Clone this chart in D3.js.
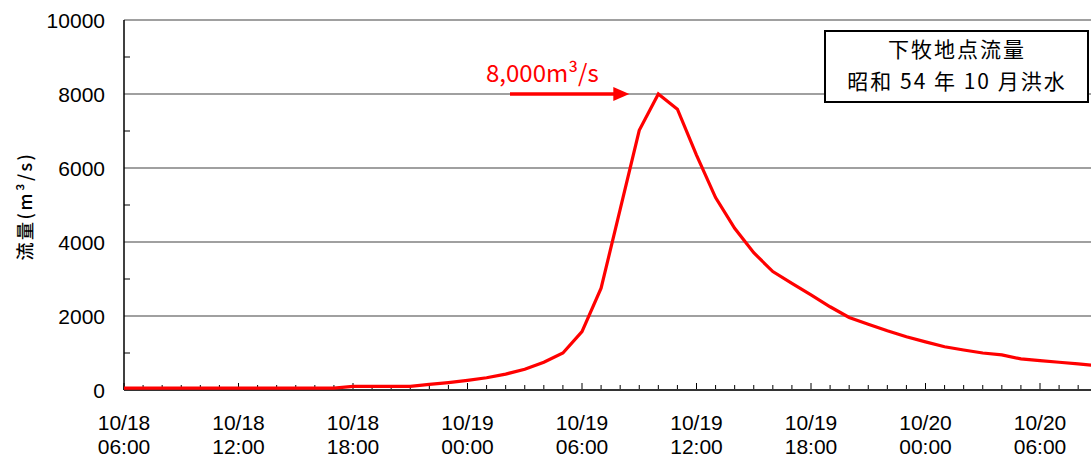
<!DOCTYPE html>
<html><head><meta charset="utf-8">
<script src="https://cdn.jsdelivr.net/npm/d3@7"></script>
<style>
html,body{margin:0;padding:0;background:#fff;}
svg{display:block;font-family:"Noto Sans CJK JP","Noto Sans",sans-serif;}
.num{font-family:"Liberation Sans","Noto Sans",sans-serif;}
</style></head>
<body><svg id="c" width="1091" height="459"></svg>
<script>
// ---- data ----
const startTime = "1979-10-18T06:00";          // first hourly reading
const flows = [50,50,50,50,50,50,50,50,50,50,50,50,
  100,100,100,100,150,200,260,330,430,560,750,1000,
  1580,2750,4880,7020,8000,7590,6350,5200,4370,3710,3200,2880,
  2570,2250,1960,1780,1600,1440,1300,1170,1080,1000,950,840,
  795,750,705,660];
const yTicks = [0,2000,4000,6000,8000,10000];
const xTickHours = [0,6,12,18,24,30,36,42,48];
const xTickDates = ["10/18","10/18","10/18","10/19","10/19","10/19","10/19","10/20","10/20"];
const xTickTimes = ["06:00","12:00","18:00","00:00","06:00","12:00","18:00","00:00","06:00"];
const peakValue = 8000;
const peakLabel = "8,000m³/s";
const titleLines = ["下牧地点流量","昭和 54 年 10 月洪水"];
const yLabel = "流量(m³/s)";

(function(){
// ---- layout ----
const W = 1091;
const pL = 124, pT = 20, pB = 390;
const svg = d3.select("#c");
const x = d3.scaleLinear().domain([0,48]).range([pL,1040]);
const y = d3.scaleLinear().domain([0,10000]).range([pB,pT]);
const maxH = x.invert(W);

svg.append("defs").append("clipPath").attr("id","clip")
  .append("rect").attr("x",pL).attr("y",0).attr("width",W-pL).attr("height",pB+2);

// gridlines
svg.append("g").selectAll("line").data(yTicks.filter(d=>d>0)).join("line")
  .attr("x1",pL).attr("x2",W).attr("y1",d=>y(d)).attr("y2",d=>y(d))
  .attr("stroke","#808080").attr("stroke-width",1.5);

// y minor ticks (inside)
svg.append("g").selectAll("line").data(d3.range(1000,10000,2000)).join("line")
  .attr("x1",pL).attr("x2",pL+6).attr("y1",d=>y(d)).attr("y2",d=>y(d))
  .attr("stroke","#000").attr("stroke-width",1);

// x ticks (inside, upward)
const hrs = d3.range(0, Math.floor(maxH)+1);
svg.append("g").selectAll("line").data(hrs).join("line")
  .attr("x1",d=>x(d)).attr("x2",d=>x(d))
  .attr("y1",pB).attr("y2",d=>d%6===0? pB-7 : pB-5)
  .attr("stroke","#000").attr("stroke-width",1);

// axes lines
svg.append("line").attr("x1",pL).attr("x2",pL).attr("y1",pT).attr("y2",pB)
  .attr("stroke","#000").attr("stroke-width",1.5);
svg.append("line").attr("x1",pL).attr("x2",W).attr("y1",pB).attr("y2",pB)
  .attr("stroke","#333").attr("stroke-width",2);

// y tick labels
svg.append("g").selectAll("text").data(yTicks).join("text").attr("class","num")
  .attr("x",105).attr("y",d=>y(d)).attr("dy","0.36em").attr("text-anchor","end")
  .attr("font-size",21).attr("fill","#000").text(d=>d);

// x tick labels (two rows)
svg.append("g").selectAll("text").data(xTickHours).join("text").attr("class","num")
  .attr("x",d=>x(d)).attr("y",430).attr("text-anchor","middle")
  .attr("font-size",21).attr("fill","#000").text((d,i)=>xTickDates[i]);
svg.append("g").selectAll("text").data(xTickHours).join("text").attr("class","num")
  .attr("x",d=>x(d)).attr("y",454).attr("text-anchor","middle")
  .attr("font-size",21).attr("fill","#000").text((d,i)=>xTickTimes[i]);

// y axis label
svg.append("text").attr("transform","translate(32,206) rotate(-90)")
  .attr("text-anchor","middle").attr("font-size",18).attr("letter-spacing",2.5)
  .attr("font-weight",500).attr("fill","#000").text(yLabel);

// line
const pts = flows.map((v,i)=>({h:i, v}));
svg.append("path").datum(pts).attr("clip-path","url(#clip)")
  .attr("fill","none").attr("stroke","#ff0000").attr("stroke-width",3.2)
  .attr("stroke-linejoin","miter")
  .attr("d", d3.line().x(d=>x(d.h)).y(d=>y(d.v)));

// annotation arrow
const peakIdx = flows.indexOf(peakValue);
const ay = y(peakValue);
const tipX = x(peakIdx) - 29;
svg.append("line").attr("x1",510).attr("x2",tipX-14).attr("y1",ay).attr("y2",ay)
  .attr("stroke","#ff0000").attr("stroke-width",3.6);
svg.append("path").attr("d",`M${tipX},${ay} L${tipX-16},${ay-7} L${tipX-16},${ay+7} Z`)
  .attr("fill","#ff0000");
svg.append("text").attr("x",486).attr("y",82).attr("font-size",24)
  .attr("fill","#ff0000").text(peakLabel);

// title box
svg.append("rect").attr("x",825).attr("y",31).attr("width",263).attr("height",71)
  .attr("fill","#fff").attr("stroke","#000").attr("stroke-width",2);
svg.append("g").selectAll("text").data(titleLines).join("text")
  .attr("x",957).attr("y",(d,i)=>57+i*32).attr("text-anchor","middle")
  .attr("font-size",21).attr("letter-spacing",2).attr("fill","#000")
  .style("white-space","pre").text(d=>d);
})();
</script></body></html>
